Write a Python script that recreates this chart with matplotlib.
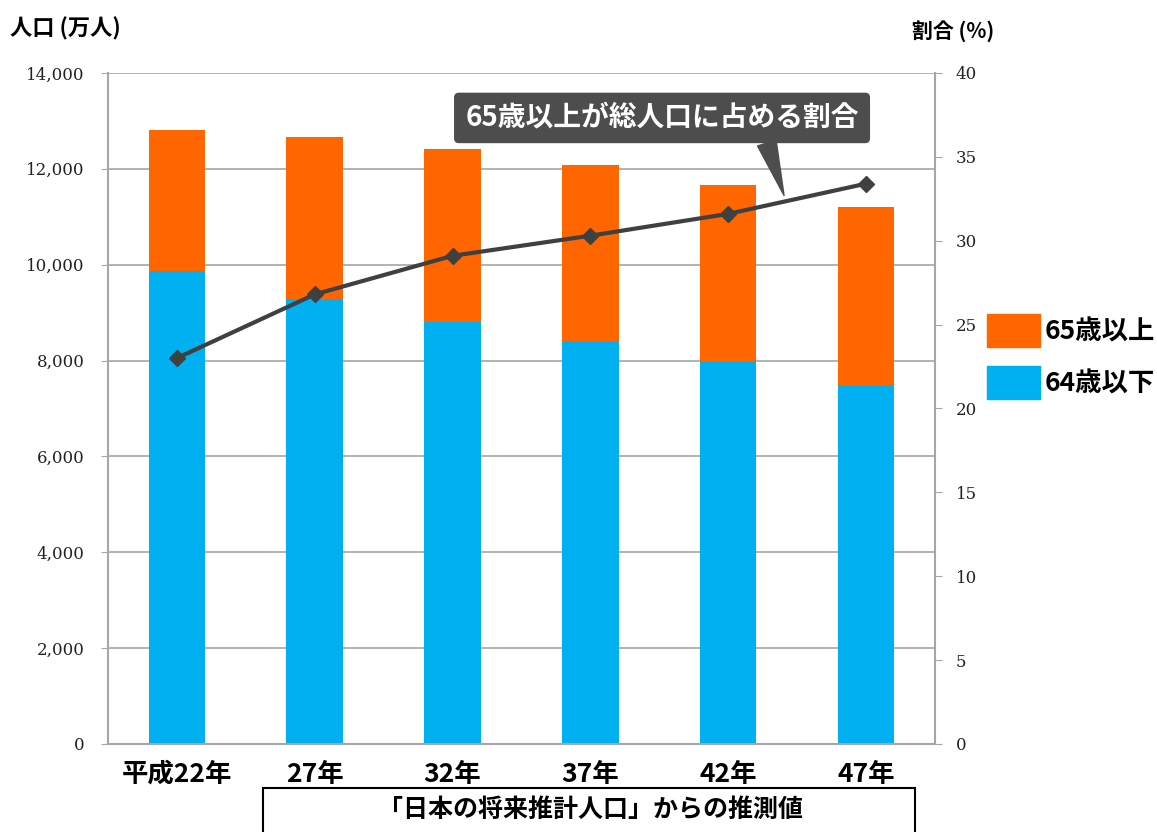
import matplotlib.pyplot as plt
from matplotlib.patches import Patch, Rectangle

plt.rcParams['font.family'] = ['Noto Sans CJK JP', 'DejaVu Sans']

years = ['平成22年', '27年', '32年', '37年', '42年', '47年']
under65 = [9869, 9285, 8805, 8408, 7991, 7490]
over65 = [2941, 3380, 3609, 3672, 3672, 3714]
ratio = [23.0, 26.8, 29.1, 30.3, 31.6, 33.4]

orange = '#FF6600'
blue = '#00B0F0'
gray = '#A6A6A6'

fig = plt.figure(figsize=(11.57, 8.32), dpi=100)
ax = fig.add_axes([0.0933, 0.1058, 0.7148, 0.8065])
x = range(len(years))

ax.bar(x, under65, width=0.41, color=blue, zorder=2)
ax.bar(x, over65, width=0.41, bottom=under65, color=orange, zorder=2)

ax.set_xlim(-0.5, 5.5)
ax.set_ylim(0, 14000)
ax.set_yticks(range(0, 14001, 2000))
ax.set_yticklabels([f'{v:,}' for v in range(0, 14001, 2000)])
ax.set_xticks(list(x))
ax.set_xticklabels(years, fontsize=19, fontweight='bold')
ax.tick_params(axis='x', length=0, pad=12)
ax.tick_params(axis='y', length=5, color=gray, pad=12)
for lab in ax.get_yticklabels():
    lab.set_fontfamily('DejaVu Serif')
    lab.set_fontsize(12)
    lab.set_color('#222222')
ax.grid(axis='y', color=gray, linewidth=1.2, zorder=0)
for s in ['top', 'right']:
    ax.spines[s].set_visible(False)
for s in ['left', 'bottom']:
    ax.spines[s].set_color(gray)
    ax.spines[s].set_linewidth(1.5)

ax2 = ax.twinx()
ax2.set_ylim(0, 40)
ax2.set_yticks(range(0, 41, 5))
ax2.set_yticklabels([str(v) for v in range(0, 41, 5)])
ax2.tick_params(axis='y', length=5, color=gray, pad=10)
for lab in ax2.get_yticklabels():
    lab.set_fontfamily('DejaVu Serif')
    lab.set_fontsize(12)
    lab.set_color('#222222')
for s in ['top', 'left', 'bottom']:
    ax2.spines[s].set_visible(False)
ax2.spines['right'].set_color(gray)
ax2.spines['right'].set_linewidth(1.5)
ax2.plot(list(x), ratio, color='#404040', linewidth=3, marker='D',
         markersize=8, zorder=3)

ax2.annotate('65歳以上が総人口に占める割合', xy=(4.405, 32.7),
             xytext=(0.67, 0.933), textcoords='axes fraction',
             ha='center', va='center', fontsize=20, fontweight='bold',
             color='white',
             bbox=dict(boxstyle='round,pad=0.38,rounding_size=0.15',
                       fc='#4D4D4D', ec='#4D4D4D'),
             arrowprops=dict(arrowstyle='wedge,tail_width=0.7',
                             fc='#4D4D4D', ec='#4D4D4D', relpos=(0.75, 0.3),
                             shrinkA=0, shrinkB=0))

fig.text(0.009, 0.966, '人口 (万人)', fontsize=16, fontweight='bold', va='center')
fig.text(0.788, 0.963, '割合 (%)', fontsize=15, fontweight='bold', va='center')

handles = [Patch(color=orange, label='65歳以上'), Patch(color=blue, label='64歳以下')]
fig.legend(handles=handles, loc='upper left', bbox_to_anchor=(0.853, 0.622),
           frameon=False, prop=dict(size=19, weight='bold'),
           handlelength=2.0, handleheight=1.5, handletextpad=0.2,
           labelspacing=0.75, borderpad=0, borderaxespad=0)

fig.patches.append(Rectangle((0.2273, -0.02), 0.5635, 0.0729, fill=False,
                             ec='black', lw=1.5, transform=fig.transFigure))
fig.text(0.51, 0.026, '「日本の将来推計人口」からの推測値', fontsize=18,
         fontweight='bold', ha='center', va='center')

fig.savefig('out.png', dpi=100)
